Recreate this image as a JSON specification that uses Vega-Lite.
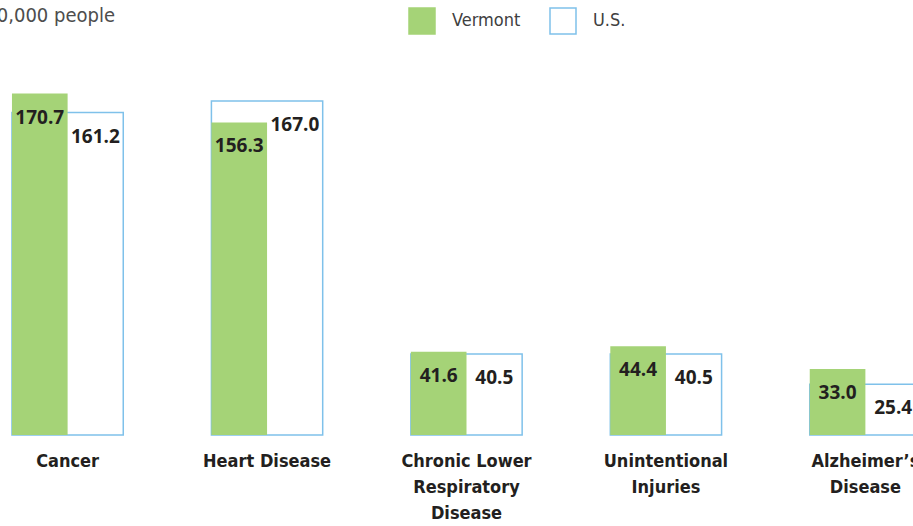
{
  "$schema": "https://vega.github.io/schema/vega-lite/v6.json",
  "width": 933,
  "height": 400,
  "autosize": {"type": "none"},
  "padding": {"left": 0, "top": 35, "right": 0, "bottom": 91},
  "background": "white",
  "title": {
    "text": "Rate per 100,000 people",
    "anchor": "start",
    "frame": "group",
    "align": "right",
    "dx": 115,
    "offset": -35,
    "baseline": "alphabetic",
    "font": "'DejaVu Sans Condensed', Roboto, sans-serif",
    "fontSize": 20,
    "fontWeight": "normal",
    "color": "#4d4d4d"
  },
  "data": {
    "values": [
      {"category": "Cancer", "series": "Vermont", "value": 170.7},
      {"category": "Cancer", "series": "U.S.", "value": 161.2},
      {"category": "Heart Disease", "series": "Vermont", "value": 156.3},
      {"category": "Heart Disease", "series": "U.S.", "value": 167.0},
      {"category": "Chronic Lower|Respiratory|Disease", "series": "Vermont", "value": 41.6},
      {"category": "Chronic Lower|Respiratory|Disease", "series": "U.S.", "value": 40.5},
      {"category": "Unintentional|Injuries", "series": "Vermont", "value": 44.4},
      {"category": "Unintentional|Injuries", "series": "U.S.", "value": 40.5},
      {"category": "Alzheimer’s|Disease", "series": "Vermont", "value": 33.0},
      {"category": "Alzheimer’s|Disease", "series": "U.S.", "value": 25.4}
    ]
  },
  "encoding": {
    "x": {
      "field": "category",
      "type": "nominal",
      "sort": null,
      "scale": {"paddingInner": 0.442, "paddingOuter": 0.06},
      "axis": {
        "title": null,
        "domain": false,
        "ticks": false,
        "labelAngle": 0,
        "labelPadding": 17,
        "labelFont": "'DejaVu Sans Condensed', Roboto, sans-serif",
        "labelFontSize": 18,
        "labelFontWeight": "bold",
        "labelColor": "#231f20",
        "labelLineHeight": 26,
        "labelLimit": 300,
        "labelOverlap": false,
        "labelExpr": "split(datum.label, '|')"
      }
    },
    "y": {
      "field": "value",
      "type": "quantitative",
      "scale": {"domain": [0, 200], "nice": false},
      "axis": null
    }
  },
  "layer": [
    {
      "transform": [{"filter": "datum.series === 'U.S.'"}],
      "mark": {"type": "bar", "strokeWidth": 1.5},
      "encoding": {
        "fill": {
          "field": "series",
          "type": "nominal",
          "scale": {"domain": ["Vermont", "U.S."], "range": ["#a5d377", "#ffffff"]}
        },
        "stroke": {
          "field": "series",
          "type": "nominal",
          "scale": {"domain": ["Vermont", "U.S."], "range": ["#a5d377", "#7fc1ea"]}
        }
      }
    },
    {
      "transform": [{"filter": "datum.series === 'Vermont'"}],
      "mark": {"type": "bar", "strokeWidth": 0},
      "encoding": {
        "xOffset": {
          "field": "series",
          "type": "nominal",
          "scale": {"domain": ["Vermont", "U.S."], "paddingInner": 0, "paddingOuter": 0}
        },
        "fill": {
          "field": "series",
          "type": "nominal",
          "scale": {"domain": ["Vermont", "U.S."], "range": ["#a5d377", "#ffffff"]}
        },
        "stroke": {
          "field": "series",
          "type": "nominal",
          "scale": {"domain": ["Vermont", "U.S."], "range": ["#a5d377", "#7fc1ea"]}
        }
      }
    },
    {
      "mark": {
        "type": "text",
        "dy": 24,
        "baseline": "middle",
        "align": "center",
        "font": "Open Sans",
        "fontSize": 19,
        "fontWeight": "bold",
        "color": "#231f20"
      },
      "encoding": {
        "xOffset": {
          "field": "series",
          "type": "nominal",
          "scale": {"domain": ["Vermont", "U.S."], "paddingInner": 0, "paddingOuter": 0}
        },
        "text": {"field": "value", "type": "quantitative", "format": ".1f"}
      }
    }
  ],
  "config": {
    "view": {"stroke": null},
    "axis": {"grid": false},
    "legend": {
      "title": null,
      "orient": "none",
      "legendX": 408,
      "legendY": -28,
      "direction": "horizontal",
      "symbolType": "square",
      "symbolSize": 676,
      "symbolStrokeWidth": 1.5,
      "labelFont": "'DejaVu Sans Condensed', Roboto, sans-serif",
      "labelFontSize": 18,
      "labelColor": "#404040",
      "labelOffset": 16,
      "columnPadding": 26,
      "padding": 0
    }
  }
}
